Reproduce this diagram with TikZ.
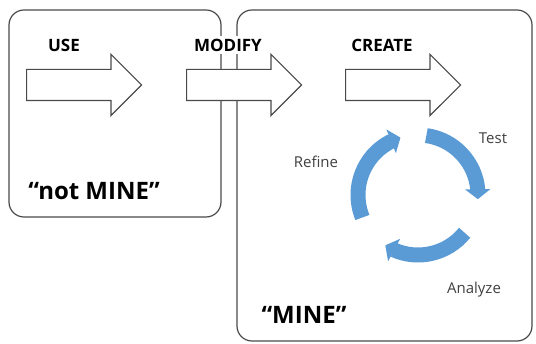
\documentclass[tikz,border=0pt]{standalone}
\usepackage{fontspec}
\setmainfont{Open Sans}
\usetikzlibrary{positioning,arrows.meta,shapes.arrows,bending}
\definecolor{FrameGray}{HTML}{4A4A4A}
\definecolor{CycleBlue}{HTML}{5B9BD5}
\definecolor{LabelGray}{HTML}{404040}

\begin{document}
\begin{tikzpicture}[x=1pt, y=-1pt,
  zone/.style  = {draw=FrameGray, line width=1.2pt, rounded corners=15pt},
  blk/.style   = {single arrow, draw=FrameGray, fill=white, line width=1.2pt,
                  minimum width=60pt, minimum height=115pt, anchor=tail,
                  single arrow head extend=15pt, inner xsep=0pt, inner ysep=15pt},
  head/.style  = {font=\bfseries\fontsize{17}{17}\selectfont, inner sep=1pt},
  owner/.style = {font=\bfseries\fontsize{24}{24}\selectfont, inner sep=0pt},
  phase/.style = {font=\fontsize{15}{15}\selectfont, text=LabelGray, inner sep=0pt},
  cyc/.style   = {draw=CycleBlue, line width=15pt,
                  -{Triangle[length=10pt, width=25pt, flex]}}
]
  \useasboundingbox (0,0) rectangle (536,344);

  % the two zones
  \draw[zone] (9,10) rectangle (221,217);
  \draw[zone] (237,10) rectangle (532,341);

  % block arrows
  \node[blk] (use)    at (26,85)  {};
  \node[blk] (modify) at (186,85) {};
  \node[blk] (create) at (345,85) {};

  \node[head] (useL)    at (64,45)  {USE};
  \node[head, fill=white, inner sep=3pt] (modifyL) at (228,45) {MODIFY};
  \node[head] (createL) at (382,45) {CREATE};

  \node[owner] (notmine) at (94,191) {“not MINE”};
  \node[owner] (mine)    at (304,315) {“MINE”};

  % improvement cycle
  \coordinate (cyc) at (418,195);
  \draw[cyc] (cyc) ++(158:60) arc[start angle=158, end angle=253, radius=60];
  \draw[cyc] (cyc) ++(-82:60) arc[start angle=-82, end angle=4, radius=60];
  \draw[cyc] (cyc) ++(39:60)  arc[start angle=39, end angle=123, radius=60];

  \node[phase] (test)    at (493,138) {Test};
  \node[phase] (refine)  at (316,162) {Refine};
  \node[phase] (analyze) at (474,290) {Analyze};
\end{tikzpicture}
\end{document}
